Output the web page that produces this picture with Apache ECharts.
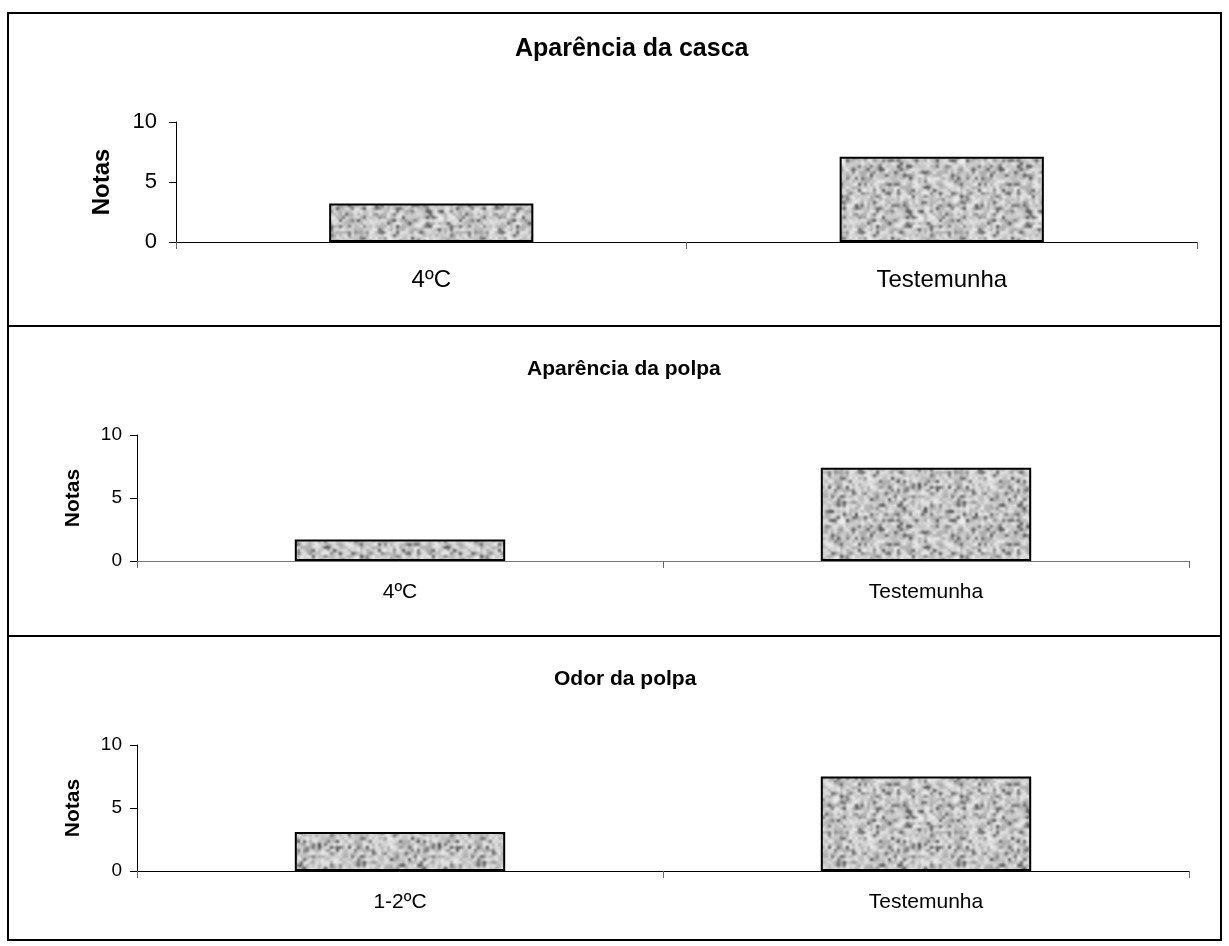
<!DOCTYPE html>
<html>
<head>
<meta charset="utf-8">
<script src="https://cdn.jsdelivr.net/npm/echarts@6/dist/echarts.min.js"></script>
<style>
  html, body { margin: 0; padding: 0; background: #fff; }
  #chart { width: 1229px; height: 946px; }
</style>
</head>
<body>
<div id="chart"></div>
<script>
// data
var titles = ["Aparência da casca", "Aparência da polpa", "Odor da polpa"];
var cats1 = ["4ºC", "Testemunha"];
var cats2 = ["4ºC", "Testemunha"];
var cats3 = ["1-2ºC", "Testemunha"];
var notas1 = [3.2, 7.1];
var notas2 = [1.7, 7.4];
var notas3 = [3.1, 7.5];
var yTicks = [0, 5, 10];

// granite-like fill texture (fixed seed so it is the same every run)
function makeTexture() {
  var seed = 12345;
  function rnd() {
    seed |= 0; seed = seed + 0x6D2B79F5 | 0;
    var t = Math.imul(seed ^ seed >>> 15, 1 | seed);
    t = t + Math.imul(t ^ t >>> 7, 61 | t) ^ t;
    return ((t ^ t >>> 14) >>> 0) / 4294967296;
  }
  var size = 120;
  var raw = document.createElement("canvas");
  raw.width = size; raw.height = size;
  var c = raw.getContext("2d");
  c.fillStyle = "#bdbdbd";
  c.fillRect(0, 0, size, size);
  for (var y = 0; y < size; y += 3) {
    for (var x = 0; x < size; x += 3) {
      var r = rnd();
      var g = Math.round(r < 0.15 ? 70 + r * 500 : 165 + rnd() * 75);
      c.fillStyle = "rgb(" + g + "," + g + "," + g + ")";
      c.fillRect(x, y, 3, 3);
    }
  }
  // tile 3x3 first so the blur wraps across the edges
  var big = document.createElement("canvas");
  big.width = size * 3; big.height = size * 3;
  var b = big.getContext("2d");
  for (var i = 0; i < 3; i++) {
    for (var j = 0; j < 3; j++) b.drawImage(raw, i * size, j * size);
  }
  var out = document.createElement("canvas");
  out.width = size; out.height = size;
  var o = out.getContext("2d");
  o.filter = "blur(1px)";
  o.drawImage(big, -size, -size);
  return out;
}
var texture = makeTexture();

var font = "Liberation Sans, Arial, sans-serif";

var panels = [
  { cats: cats1, vals: notas1, left: 176, top: 122, right: 32, height: 120, fs: 22, xfs: 24, nfs: 24, tfs: 25, tleft: 510, ttop: 32, nameGap: 62, labMargin: 26, ylMargin: 19, xColor: "#000" },
  { cats: cats2, vals: notas2, left: 137, top: 435, right: 40, height: 126, fs: 19, xfs: 21, nfs: 21, tfs: 21, tleft: 522, ttop: 354, nameGap: 53, labMargin: 21, ylMargin: 15, xColor: "#777" },
  { cats: cats3, vals: notas3, left: 137, top: 745, right: 40, height: 126, fs: 19, xfs: 21, nfs: 21, tfs: 21, tleft: 549, ttop: 664, nameGap: 53, labMargin: 21, ylMargin: 15, xColor: "#000" }
];

var option = {
  backgroundColor: "#fff",
  animation: false,
  title: [],
  grid: [],
  xAxis: [],
  yAxis: [],
  series: [],
  graphic: [
    { type: "rect", shape: { x: 8, y: 13, width: 1213, height: 927 }, style: { fill: null, stroke: "#000", lineWidth: 2 } },
    { type: "line", shape: { x1: 8, y1: 326, x2: 1221, y2: 326 }, style: { stroke: "#000", lineWidth: 2 } },
    { type: "line", shape: { x1: 8, y1: 636, x2: 1221, y2: 636 }, style: { stroke: "#000", lineWidth: 2 } }
  ]
};

panels.forEach(function (p, i) {
  option.title.push({
    text: titles[i], left: p.tleft, top: p.ttop,
    textStyle: { fontFamily: font, fontSize: p.tfs, fontWeight: "bold", color: "#000" }
  });
  option.grid.push({ left: p.left, top: p.top, right: p.right, height: p.height });
  option.xAxis.push({
    type: "category", gridIndex: i, data: p.cats,
    axisLine: { show: true, lineStyle: { color: p.xColor, width: 1 } },
    axisTick: { show: true, length: 7, lineStyle: { color: "#666" } },
    axisLabel: { fontFamily: font, fontSize: p.xfs, color: "#000", margin: p.labMargin }
  });
  option.yAxis.push({
    type: "value", gridIndex: i, min: yTicks[0], max: yTicks[2], interval: yTicks[1] - yTicks[0],
    name: "Notas", nameLocation: "middle", nameGap: p.nameGap,
    nameTextStyle: { fontFamily: font, fontSize: p.nfs, fontWeight: "bold", color: "#000" },
    axisLine: { show: true, lineStyle: { color: "#000", width: 1 } },
    axisTick: { show: true, length: 7, lineStyle: { color: "#000" } },
    axisLabel: { fontFamily: font, fontSize: p.fs, color: "#000", margin: p.ylMargin },
    splitLine: { show: false }
  });
  option.series.push({
    type: "bar", xAxisIndex: i, yAxisIndex: i, data: p.vals, barWidth: "40%",
    itemStyle: { color: { image: texture, repeat: "repeat" }, borderColor: "#000", borderWidth: 2 }
  });
});

var myEcharts = echarts.init(document.getElementById("chart"));
myEcharts.setOption(option);
</script>
</body>
</html>
